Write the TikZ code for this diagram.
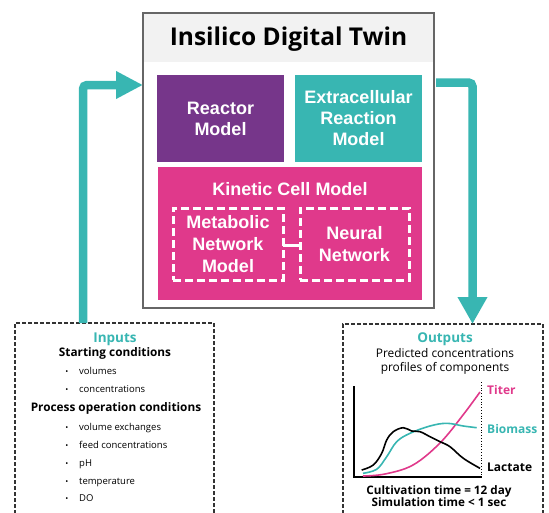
\documentclass[tikz,border=0pt]{standalone}
\usepackage{fontspec}
\setmainfont{Open Sans}
\newfontfamily\arialf{Liberation Sans}
\usetikzlibrary{arrows.meta}
\definecolor{cpurple}{HTML}{76368A}
\definecolor{cteal}{HTML}{38B6B2}
\definecolor{cpink}{HTML}{E0398B}
\definecolor{cband}{HTML}{F2F2F2}
\definecolor{cborder}{HTML}{666666}
\definecolor{cdash}{HTML}{333333}
\begin{document}
\begin{tikzpicture}[x=1pt,y=-1pt,
  colbox/.style={inner sep=0pt, outer sep=0pt, text=white, align=center,
    font=\arialf\bfseries\fontsize{18}{21}\selectfont},
  dashbox/.style={draw=white, line width=3pt, dash pattern=on 8pt off 4pt,
    inner sep=0pt, outer sep=0pt, text=white, align=center,
    font=\arialf\bfseries\fontsize{18}{21.7}\selectfont},
  flow/.style={draw=cteal, line width=8.5pt, rounded corners=4pt},
  panel/.style={draw=cdash, line width=1.2pt, dash pattern=on 4pt off 2pt,
    inner sep=0pt, outer sep=0pt},
  headt/.style={font=\bfseries\fontsize{13.5}{15}\selectfont, text=cteal, anchor=base},
  subt/.style={font=\bfseries\fontsize{11.8}{14}\selectfont, anchor=base},
  itemt/.style={font=\fontsize{9.5}{11}\selectfont, anchor=base west, inner sep=0pt},
  bult/.style={font=\fontsize{8}{10}\selectfont, anchor=base, inner sep=0pt},
  plaint/.style={font=\fontsize{11.9}{14}\selectfont, anchor=base},
  curvet/.style={line width=1.6pt, line join=round},
  labt/.style={font=\bfseries\fontsize{12}{14}\selectfont, anchor=base west, inner sep=0pt},
  foott/.style={font=\bfseries\fontsize{11.7}{13}\selectfont, anchor=base}
]
\clip (0,0) rectangle (549,512);
\useasboundingbox (0,0) rectangle (549,512);

% main twin box
\node[draw=cborder, line width=2.5pt, fill=white, inner sep=0pt, outer sep=0pt,
  minimum width=291pt, minimum height=295pt] (twin) at (288.5,160.5) {};
\fill[cband] ([xshift=1.25pt,yshift=-1.25pt]twin.north west) rectangle ([xshift=-1.25pt]twin.east |- 0,62);
\draw[cborder, line width=2.5pt] (twin.north west) rectangle (twin.south east);
\node[font=\bfseries\fontsize{24.5}{28}\selectfont, anchor=base] (title) at (288.5,45.5) {Insilico Digital Twin};

\node[colbox, fill=cpurple, minimum width=127pt, minimum height=87pt] (reactor) at (220.5,118.5) {Reactor\\Model};
\node[colbox, fill=cteal, minimum width=127pt, minimum height=87pt] (extra) at (358.5,118.5) {Extracellular\\Reaction\\Model};
\node[colbox, fill=cpink, minimum width=264pt, minimum height=133pt] (kinetic) at (290,233.5) {};
\node[colbox, anchor=base] (kinlabel) at (290,195) {Kinetic Cell Model};
\node[dashbox, minimum width=110pt, minimum height=72pt] (meta) at (228,244) {Metabolic\\Network\\Model};
\node[dashbox, minimum width=109pt, minimum height=72pt] (neural) at (354.5,244) {Neural\\Network};
\draw[white, line width=3pt] (meta.east |- 0,245) -- (neural.west |- 0,245);

% inputs panel
\node[panel, minimum width=199pt, minimum height=207pt] (inputs) at (114.5,426.5) {};
\node[headt] (inh) at (115,342.7) {Inputs};
\node[subt] (ins1) at (115,356.7) {Starting conditions};
\node[bult] (b1) at (67,374.3) {•};
\node[itemt] (i1) at (79,374.3) {volumes};
\node[bult] (b2) at (67,392.3) {•};
\node[itemt] (i2) at (79,392.3) {concentrations};
\node[subt] (ins2) at (116,411.7) {Process operation conditions};
\node[bult] (b3) at (67,430.7) {•};
\node[itemt] (i3) at (79,430.7) {volume exchanges};
\node[bult] (b4) at (67,448.7) {•};
\node[itemt] (i4) at (79,448.7) {feed concentrations};
\node[bult] (b5) at (67,466.7) {•};
\node[itemt] (i5) at (79,466.7) {pH};
\node[bult] (b6) at (67,484) {•};
\node[itemt] (i6) at (79,484) {temperature};
\node[bult] (b7) at (67,501.7) {•};
\node[itemt] (i7) at (79,501.7) {DO};

% outputs panel
\node[panel, minimum width=200pt, minimum height=206pt] (outputs) at (443,427) {};
\node[headt] (outh) at (445,342.7) {Outputs};
\node[plaint] (o1) at (445,357.3) {Predicted concentrations};
\node[plaint] (o2) at (445,371.7) {profiles of components};

% chart
\draw[black, line width=1.7pt] (354,386) -- (354,477) -- (482,477);
\draw[black, line width=0.8pt, dotted] (481.7,382) -- (481.7,477);
\draw[curvet, cpink] plot[smooth, tension=0.6] coordinates {(363,476) (385,474) (413,465) (440,443) (463,415) (480,392)};
\draw[curvet, cteal] plot[smooth, tension=0.6] coordinates {(363,473.3) (376.7,469.3) (386.7,456.7) (396.7,441.7) (410,433.3) (430,426) (446.7,423.3) (463.3,426) (476.7,427.7)};
\draw[curvet, black] plot[smooth, tension=0.6] coordinates {(361.7,470) (373.3,465) (381.7,453.3) (386.7,440) (393.3,431.7) (403.3,427.7) (411.7,431) (420,431.7) (430,436.7) (440,441.7) (450,446.7) (463.3,458.3) (480,468.3)};
\node[labt, text=cpink] (titer) at (487,394) {Titer};
\node[labt, text=cteal] (biomass) at (487,433.3) {Biomass};
\node[labt] (lactate) at (487,471.7) {Lactate};
\node[foott] (cult) at (439,494) {Cultivation time = 12 day};
\node[foott] (sim) at (439,506.7) {Simulation time < 1 sec};

% flow arrows
\coordinate (inTop) at (83,323);
\coordinate (inTurn) at (83,85);
\draw[flow, -{Triangle[length=27pt,width=26pt]}] (inTop) |- (twin.west |- inTurn);
\coordinate (outTurn) at (472.5,82.5);
\draw[flow, -{Triangle[length=27pt,width=28pt]}] ([xshift=2pt]twin.east |- outTurn) -| (outputs.north -| outTurn);
\end{tikzpicture}
\end{document}
